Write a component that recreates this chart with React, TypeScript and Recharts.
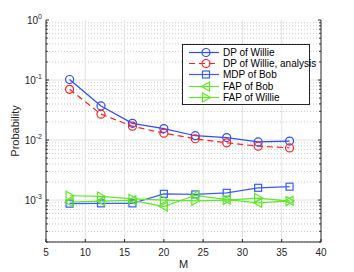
import React from "react";
import {
  LineChart,
  Line,
  XAxis,
  YAxis,
  ReferenceLine,
  Legend,
} from "recharts";

const mValues = [8, 12, 16, 20, 24, 28, 32, 36];
const dpWillie = [0.102, 0.037, 0.019, 0.0155, 0.0118, 0.011, 0.0093, 0.0096];
const dpWillieAnalysis = [0.07, 0.027, 0.017, 0.013, 0.0105, 0.009, 0.0079, 0.0074];
const mdpBob = [8.7e-4, 8.8e-4, 8.8e-4, 1.27e-3, 1.24e-3, 1.32e-3, 1.6e-3, 1.67e-3];
const fapBob = [9.2e-4, 9.6e-4, 9.9e-4, 7.8e-4, 1.2e-3, 1.02e-3, 9.0e-4, 9.7e-4];
const fapWillie = [1.18e-3, 1.15e-3, 1.05e-3, 1.0e-3, 9.7e-4, 1.0e-3, 1.08e-3, 9.6e-4];

const xTicks = [5, 10, 15, 20, 25, 30, 35, 40];
const decadeTicks = [1e-3, 1e-2, 1e-1, 1];
const decadeExps = [-3, -2, -1, 0];
const mantissas = [2, 3, 4, 5, 6, 7, 8, 9];
const minorDecades = [1e-4, 1e-3, 1e-2, 1e-1];

const minorTicks = minorDecades
  .flatMap((d) => mantissas.map((m) => m * d))
  .filter((v) => v >= 2e-4 - 1e-12 && v < 1);
const allYTicks = [...minorTicks, ...decadeTicks].sort((a, b) => a - b);

const data = mValues.map((m, i) => ({
  m,
  dp: dpWillie[i],
  dpa: dpWillieAnalysis[i],
  mdp: mdpBob[i],
  fapB: fapBob[i],
  fapW: fapWillie[i],
}));

const BLUE = "#2b4cff";
const BLUE2 = "#3a5cff";
const RED = "#ff2020";
const GREEN = "#5ee826";
const AX = "#262626";
const FONT = "'Liberation Sans', Arial, sans-serif";

const isDecade = (v: number) => decadeTicks.some((d) => Math.abs(v - d) / d < 1e-6);

function Marker({ kind, x, y, color }: { kind: string; x: number; y: number; color: string }) {
  const sw = 1.2;
  if (kind === "circle") return <circle cx={x} cy={y} r={4} fill="none" stroke={color} strokeWidth={sw} />;
  if (kind === "square")
    return <rect x={x - 3.5} y={y - 3.5} width={7} height={7} fill="none" stroke={color} strokeWidth={sw} />;
  if (kind === "left")
    return (
      <polygon
        points={`${x - 4.5},${y} ${x + 3.5},${y - 4.5} ${x + 3.5},${y + 4.5}`}
        fill="none"
        stroke={color}
        strokeWidth={sw}
      />
    );
  return (
    <polygon
      points={`${x + 4.5},${y} ${x - 3.5},${y - 4.5} ${x - 3.5},${y + 4.5}`}
      fill="none"
      stroke={color}
      strokeWidth={sw}
    />
  );
}

const makeDot = (kind: string, color: string) => (props: any) => {
  const { cx, cy, index } = props;
  if (cx == null || cy == null) return <g key={`d-${kind}-${index}`} />;
  return <Marker key={`d-${kind}-${index}`} kind={kind} x={cx} y={cy} color={color} />;
};

const series = [
  { key: "dp", name: "DP of Willie", color: BLUE, kind: "circle", dash: undefined },
  { key: "dpa", name: "DP of Willie, analysis", color: RED, kind: "circle", dash: "6 4" },
  { key: "mdp", name: "MDP of Bob", color: BLUE2, kind: "square", dash: undefined },
  { key: "fapB", name: "FAP of Bob", color: GREEN, kind: "left", dash: undefined },
  { key: "fapW", name: "FAP of Willie", color: GREEN, kind: "right", dash: undefined },
];

function LeftTick(props: any) {
  const { x, y, payload } = props;
  const v = payload.value;
  if (isDecade(v)) {
    const exp = decadeExps[decadeTicks.findIndex((d) => Math.abs(v - d) / d < 1e-6)];
    return (
      <g>
        <line x1={x} x2={x + 3} y1={y} y2={y} stroke={AX} />
        <text x={x - 4} y={y + 4} textAnchor="end" fill={AX} fontSize={10} fontFamily={FONT}>
          <tspan>10</tspan>
          <tspan dy={-5} fontSize={7}>{exp}</tspan>
        </text>
      </g>
    );
  }
  return <line x1={x} x2={x + 1.8} y1={y} y2={y} stroke={AX} />;
}

function RightTick(props: any) {
  const { x, y, payload } = props;
  const len = isDecade(payload.value) ? 3 : 1.8;
  return <line x1={x - len} x2={x} y1={y} y2={y} stroke={AX} />;
}

function BottomTick(props: any) {
  const { x, y, payload } = props;
  return (
    <g>
      <line x1={x} x2={x} y1={y} y2={y - 3} stroke={AX} />
      <text x={x} y={y + 14} textAnchor="middle" fill={AX} fontSize={10} fontFamily={FONT}>
        {payload.value}
      </text>
    </g>
  );
}

function TopTick(props: any) {
  const { x, y } = props;
  return <line x1={x} x2={x} y1={y} y2={y + 3} stroke={AX} />;
}

function LegendBox() {
  return (
    <div
      style={{
        border: `1px solid ${AX}`,
        background: "#fff",
        width: 126,
        height: 57,
        padding: "2px 0 0 0",
        boxSizing: "content-box",
        fontFamily: FONT,
        fontSize: 10,
        color: "#000",
      }}
    >
      {series.map((s) => (
        <div key={s.key} style={{ display: "flex", alignItems: "center", height: 11.2 }}>
          <svg width={36} height={11} style={{ marginLeft: 4, flex: "none" }}>
            <line x1={2} x2={32} y1={5.5} y2={5.5} stroke={s.color} strokeWidth={1.2} strokeDasharray={s.dash} />
            <Marker kind={s.kind} x={19} y={5.5} color={s.color} />
          </svg>
          <span style={{ marginLeft: 0, whiteSpace: "nowrap", lineHeight: "11px" }}>{s.name}</span>
        </div>
      ))}
    </div>
  );
}

export default function App() {
  return (
    <div style={{ position: "absolute", left: 0, top: 0, width: 354, height: 272, background: "#fff" }}>
      <LineChart width={354} height={272} data={data} margin={{ top: 20, right: 0, left: 0, bottom: 0 }}>
        <XAxis
          xAxisId="b"
          dataKey="m"
          type="number"
          domain={[5, 40]}
          ticks={xTicks}
          height={30}
          tickSize={0}
          tickMargin={0}
          tickLine={false}
          stroke={AX}
          tick={<BottomTick />}
          interval={0}
          label={{ value: "M", position: "insideBottom", offset: 4, fill: AX, fontSize: 11, fontFamily: FONT }}
        />
        <XAxis
          xAxisId="t"
          orientation="top"
          dataKey="m"
          type="number"
          domain={[5, 40]}
          ticks={xTicks}
          height={0}
          tickSize={0}
          tickMargin={0}
          tickLine={false}
          stroke={AX}
          tick={<TopTick />}
          interval={0}
        />
        <YAxis
          yAxisId="l"
          scale="log"
          domain={[2e-4, 1]}
          allowDataOverflow
          ticks={allYTicks}
          interval={0}
          width={46}
          tickSize={0}
          tickMargin={0}
          tickLine={false}
          stroke={AX}
          tick={<LeftTick />}
          label={{
            value: "Probability",
            angle: -90,
            position: "insideLeft",
            offset: 15,
            fill: AX,
            fontSize: 11,
            fontFamily: FONT,
            style: { textAnchor: "middle" },
          }}
        />
        <YAxis
          yAxisId="r"
          orientation="right"
          scale="log"
          domain={[2e-4, 1]}
          allowDataOverflow
          ticks={allYTicks}
          interval={0}
          width={33}
          tickSize={0}
          tickMargin={0}
          tickLine={false}
          stroke={AX}
          tick={<RightTick />}
        />
        {minorTicks.map((v) => (
          <ReferenceLine
            key={`mn-${v}`}
            xAxisId="b"
            yAxisId="l"
            y={v}
            stroke="#bdbdbd"
            strokeWidth={0.8}
            strokeDasharray="1 2"
          />
        ))}
        {decadeTicks.slice(0, 3).map((v) => (
          <ReferenceLine key={`mj-${v}`} xAxisId="b" yAxisId="l" y={v} stroke="#e2e2e2" />
        ))}
        {xTicks.slice(1, -1).map((v) => (
          <ReferenceLine key={`vx-${v}`} xAxisId="b" yAxisId="l" x={v} stroke="#e2e2e2" />
        ))}
        {series.map((s) => (
          <Line
            key={s.key}
            xAxisId="b"
            yAxisId="l"
            dataKey={s.key}
            name={s.name}
            stroke={s.color}
            strokeWidth={1.2}
            strokeDasharray={s.dash}
            dot={makeDot(s.kind, s.color)}
            activeDot={false}
            isAnimationActive={false}
          />
        ))}
        <Legend
          layout="vertical"
          align="center"
          verticalAlign="middle"
          content={() => <LegendBox />}
          wrapperStyle={{ position: "absolute", left: 182, top: 44, width: 128, height: 59 }}
        />
      </LineChart>
    </div>
  );
}
